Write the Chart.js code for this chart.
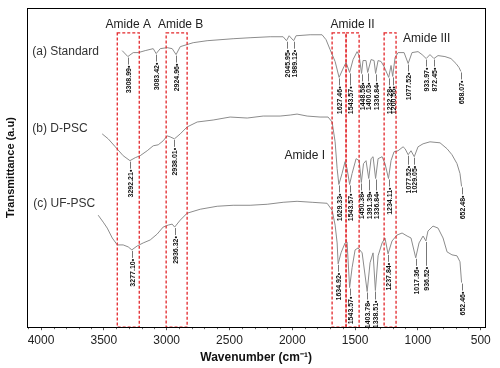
<!DOCTYPE html>
<html>
<head>
<meta charset="utf-8">
<script src="https://cdn.jsdelivr.net/npm/chart.js@4.4.1/dist/chart.umd.min.js"></script>
<style>
  html, body { margin: 0; padding: 0; background: #fff; }
  canvas { display: block; }
</style>
</head>
<body>
<canvas id="ftir" width="500" height="368"></canvas>
<script>
// ------- SPECTRA (wavenumber cm-1 / transmittance a.u.) -------
const stdWn = [3354, 3308.99, 3266, 3226, 3171, 3107, 3083.42, 3051, 2996, 2956, 2924.96, 2892, 2789, 2678, 2471, 2336, 2176, 2073, 2045.95, 2025, 1989.12, 1970, 1858, 1763, 1731, 1699, 1659, 1627.46, 1588, 1572, 1543.57, 1516, 1484, 1468, 1448.58, 1437, 1413, 1400.03, 1373, 1349, 1336.84, 1317, 1293, 1270, 1232.28, 1214, 1200.56, 1182, 1158, 1110, 1077.52, 1047, 999, 967, 933.97, 904, 872.45, 840, 785, 737, 697, 673, 658.07];
const stdT = [279, 273, 277, 277, 279, 281, 276, 281, 282, 281, 275, 283, 287, 289, 291, 292, 293, 293, 289, 294, 289, 294, 295, 295, 290, 280, 268, 252, 263, 267, 257, 270, 278, 274, 256, 269, 269, 257, 270, 269, 256, 269, 268, 263, 252, 264, 253, 272, 277, 277, 266, 277, 278, 275, 271, 275, 271, 274, 273, 271, 266, 262, 258];

const dpscWn = [3513, 3465, 3409, 3346, 3292.21, 3250, 3211, 3155, 3107, 3067, 3028, 2996, 2972, 2938.01, 2892, 2837, 2757, 2630, 2495, 2359, 2232, 2097, 2017, 1962, 1882, 1779, 1715, 1683, 1659, 1643, 1629.33, 1604, 1580, 1564, 1543.57, 1524, 1492, 1468, 1450.38, 1433, 1413, 1391.39, 1373, 1357, 1336.84, 1317, 1285, 1262, 1234.11, 1214, 1190, 1158, 1118, 1102, 1077.52, 1055, 1029.05, 999, 959, 904, 824, 768, 729, 689, 665, 652.48];
const dpscT = [195, 190, 182, 173, 168, 171, 173, 178, 183, 184, 188, 193, 192, 190, 195, 202, 207, 209, 212, 211, 213, 213, 214, 215, 213, 212, 212, 207, 187, 160, 144, 155, 167, 160, 144, 155, 170, 168, 146, 165, 168, 150, 170, 172, 150, 170, 172, 165, 150, 168, 177, 178, 182, 180, 174, 178, 172, 182, 185, 187, 186, 180, 174, 165, 155, 142];

const ufWn = [3545, 3505, 3473, 3433, 3393, 3346, 3306, 3277.10, 3234, 3187, 3131, 3075, 3028, 2988, 2956, 2936.32, 2892, 2837, 2733, 2598, 2471, 2336, 2200, 2073, 1962, 1842, 1723, 1683, 1659, 1643, 1634.92, 1612, 1580, 1564, 1543.57, 1524, 1500, 1476, 1444, 1403.78, 1381, 1357, 1338.51, 1317, 1285, 1262, 1237.84, 1206, 1166, 1126, 1086, 1055, 1017.36, 991, 959, 936.52, 920, 880, 840, 800, 768, 729, 689, 665, 652.46];
const ufT = [113, 106, 100, 90, 83, 83, 81, 78, 82, 85, 88, 94, 101, 103, 104, 101, 108, 115, 119, 122, 123, 123, 124, 126, 127, 126, 125, 118, 103, 85, 64, 75, 85, 86, 40, 60, 78, 80, 75, 36, 65, 75, 37, 72, 85, 90, 74, 87, 93, 95, 92, 90, 70, 85, 92, 87, 97, 102, 100, 90, 76, 73, 72, 66, 45];

// ------- PEAK LABELS -------
const stdPeaks = [3308.99, 3083.42, 2924.96, 2045.95, 1989.12, 1627.46, 1543.57, 1448.58, 1400.03, 1336.84, 1232.28, 1200.56, 1077.52, 933.97, 872.45, 658.07];
const dpscPeaks = [3292.21, 2938.01, 1629.33, 1543.57, 1450.38, 1391.39, 1336.84, 1234.11, 1077.52, 1029.05, 652.48];
const ufPeaks = [3277.10, 2936.32, 1634.92, 1543.57, 1403.78, 1338.51, 1237.84, 1017.36, 936.52, 652.46];

const seriesNames = ["(a) Standard", "(b) D-PSC", "(c) UF-PSC"];

// ------- AMIDE BANDS -------
const bandNames = ["Amide A", "Amide B", "Amide I", "Amide II", "Amide III"];
const bandFrom = [3393, 3004, 1683, 1572, 1269];
const bandTo = [3218, 2837, 1572, 1468, 1174];

const xTicks = [4000, 3500, 3000, 2500, 2000, 1500, 1000, 500];

const FONT = "'Liberation Sans', Arial, sans-serif";

function toPoints(xs, ys) {
    return xs.map((x, i) => ({ x: x, y: ys[i] }));
}

// y value of a spectrum at a wavenumber (linear between read points)
function valueAt(xs, ys, wn) {
    for (let i = 0; i < xs.length - 1; i++) {
        let a = xs[i], b = xs[i + 1];
        if ((wn <= a && wn >= b) || (wn >= a && wn <= b)) {
            let t = (wn - a) / (b - a);
            return ys[i] + t * (ys[i + 1] - ys[i]);
        }
    }
    return ys[ys.length - 1];
}

const spectra = [
    { wn: stdWn, t: stdT, peaks: stdPeaks },
    { wn: dpscWn, t: dpscT, peaks: dpscPeaks },
    { wn: ufWn, t: ufT, peaks: ufPeaks }
];

// ------- DECORATIONS (frame, bands, peak labels, texts) -------
const decorations = {
    id: "decorations",
    afterDatasetsDraw(chart) {
        const ctx = chart.ctx;
        const xs = chart.scales.x, ys = chart.scales.y;
        const area = chart.chartArea;

        // minor ticks
        ctx.save();
        ctx.strokeStyle = "#666";
        ctx.lineWidth = 1;
        for (let v = 600; v <= 4100; v += 100) {
            if (v % 500 === 0) continue;
            let px = Math.round(xs.getPixelForValue(v)) + 0.5;
            ctx.beginPath();
            ctx.moveTo(px, area.bottom);
            ctx.lineTo(px, area.bottom + 2);
            ctx.stroke();
        }
        ctx.restore();

        // peak markers
        ctx.save();
        ctx.font = "bold 7px " + FONT;
        ctx.fillStyle = "#111";
        ctx.strokeStyle = "#777";
        ctx.lineWidth = 1;
        spectra.forEach(s => {
            let marks = s.peaks.map(p => ({
                wn: p,
                x: xs.getPixelForValue(p),
                y: ys.getPixelForValue(valueAt(s.wn, s.t, p))
            })).sort((a, b) => a.x - b.x);
            // neighbouring labels share one level
            let groups = [];
            marks.forEach(m => {
                let g = groups[groups.length - 1];
                if (g && m.x - g[g.length - 1].x < 11) g.push(m);
                else groups.push([m]);
            });
            groups.forEach(g => {
                let top = Math.max(...g.map(m => m.y)) + 8;
                g.forEach(m => {
                    let px = Math.round(m.x) + 0.5;
                    ctx.beginPath();
                    ctx.moveTo(px, m.y + 1);
                    ctx.lineTo(px, top);
                    ctx.stroke();
                    ctx.save();
                    ctx.translate(px, top);
                    ctx.rotate(-Math.PI / 2);
                    ctx.textAlign = "right";
                    ctx.textBaseline = "middle";
                    ctx.fillText(m.wn.toFixed(2) + "\u2022", -1, 0.5);
                    ctx.restore();
                });
            });
        });
        ctx.restore();

        // amide bands
        const boxTop = ys.getPixelForValue(297);
        ctx.save();
        ctx.strokeStyle = "#e3262a";
        ctx.lineWidth = 1.3;
        ctx.setLineDash([3, 2]);
        bandNames.forEach((name, i) => {
            let x1 = xs.getPixelForValue(bandFrom[i]);
            let x2 = xs.getPixelForValue(bandTo[i]);
            ctx.strokeRect(x1, boxTop, x2 - x1, area.bottom - boxTop);
        });
        ctx.restore();

        ctx.save();
        ctx.font = "12px " + FONT;
        ctx.fillStyle = "#222";
        ctx.textBaseline = "middle";
        bandNames.forEach((name, i) => {
            let x1 = xs.getPixelForValue(bandFrom[i]);
            let x2 = xs.getPixelForValue(bandTo[i]);
            if (name === "Amide I") {
                ctx.textAlign = "right";
                ctx.fillText(name, x1 - 7, ys.getPixelForValue(173));
            } else if (name === "Amide III") {
                ctx.textAlign = "left";
                ctx.fillText(name, x2 + 7, boxTop + 6);
            } else {
                ctx.textAlign = "center";
                ctx.fillText(name, (x1 + x2) / 2 + (name === "Amide B" ? 4 : 0), boxTop - 8);
            }
        });

        // series names
        ctx.fillStyle = "#333";
        ctx.textAlign = "left";
        ctx.fillText(seriesNames[0], xs.getPixelForValue(4070), ys.getPixelForValue(278));
        ctx.fillText(seriesNames[1], xs.getPixelForValue(4070), ys.getPixelForValue(200));
        ctx.fillText(seriesNames[2], xs.getPixelForValue(4062), ys.getPixelForValue(125));
        ctx.restore();

        // frame
        ctx.save();
        ctx.strokeStyle = "#000";
        ctx.lineWidth = 1;
        ctx.strokeRect(Math.round(area.left) + 0.5, Math.round(area.top) + 0.5,
            Math.round(area.right - area.left), Math.round(area.bottom - area.top));
        ctx.restore();
    }
};

new Chart(document.getElementById("ftir").getContext("2d"), {
    type: "line",
    data: {
        datasets: spectra.map((s, i) => ({
            label: seriesNames[i],
            data: toPoints(s.wn, s.t),
            borderColor: "#8c8c8c",
            borderWidth: 1,
            pointRadius: 0,
            tension: 0,
            fill: false
        }))
    },
    options: {
        responsive: false,
        animation: false,
        devicePixelRatio: 1,
        layout: { padding: { left: 4, top: 8, right: 15, bottom: 1 } },
        plugins: { legend: { display: false }, tooltip: { enabled: false } },
        scales: {
            x: {
                type: "linear",
                reverse: true,
                min: 466,
                max: 4110,
                afterBuildTicks: scale => {
                    scale.ticks = xTicks.map(v => ({ value: v }));
                },
                ticks: {
                    font: { family: FONT, size: 12 },
                    color: "#222",
                    padding: 3,
                    maxRotation: 0,
                    autoSkip: false,
                    callback: v => String(v)
                },
                grid: { display: true, drawOnChartArea: false, drawTicks: true, tickLength: 3, color: "#555" },
                border: { display: true, color: "#000" },
                title: {
                    display: true,
                    text: "Wavenumber (cm\u207B\u00B9)",
                    font: { family: FONT, size: 12, weight: "bold" },
                    color: "#111",
                    padding: { top: 0, bottom: 2 }
                }
            },
            y: {
                min: 0,
                max: 322,
                ticks: { display: false },
                grid: { display: false, drawTicks: false },
                border: { display: true, color: "#000" },
                title: {
                    display: true,
                    text: "Transmittance (a.u)",
                    font: { family: FONT, size: 11, weight: "bold" },
                    color: "#111",
                    padding: { top: 0, bottom: 10 }
                }
            }
        }
    },
    plugins: [decorations]
});
</script>
</body>
</html>
